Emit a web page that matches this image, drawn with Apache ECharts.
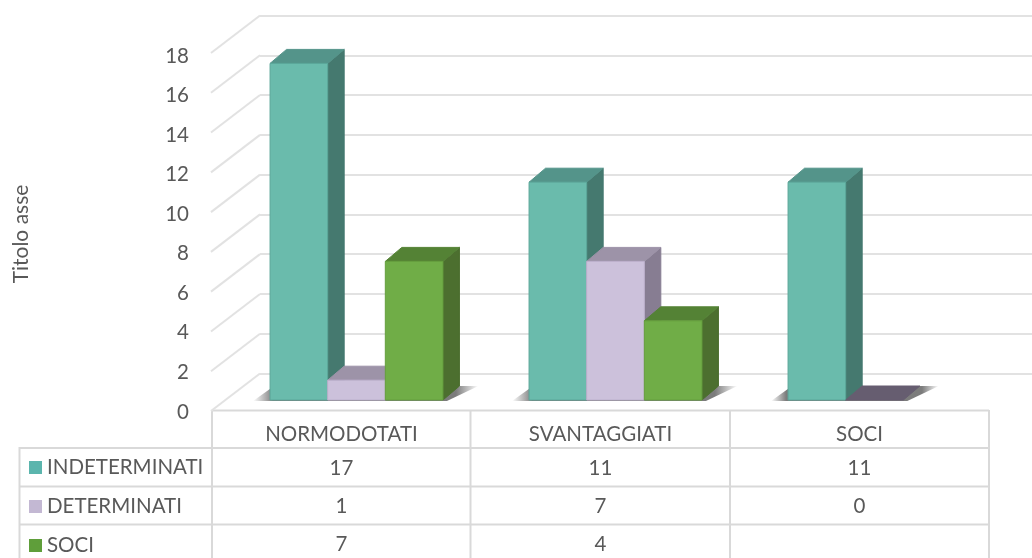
<!DOCTYPE html>
<html><head><meta charset="utf-8">
<style>html,body{margin:0;padding:0;background:#fff}#c{width:1032px;height:558px;filter:blur(0.45px)}</style>
<script src="https://cdn.jsdelivr.net/npm/echarts@6/dist/echarts.min.js"></script>
</head><body><div id="c"></div>
<script>
const categories = ['NORMODOTATI', 'SVANTAGGIATI', 'SOCI'];
const indeterminati = [17, 11, 11];
const determinati = [1, 7, 0];
const soci = [7, 4, null];
const seriesNames = ['INDETERMINATI', 'DETERMINATI', 'SOCI'];
const seriesValues = [indeterminati, determinati, soci];
const yTicks = [0, 2, 4, 6, 8, 10, 12, 14, 16, 18];
const TEXT = '#595959', FONT = 'Lato', FS = 20.5;
const LINE = '#d9d9d9', WALL = '#e2e2e2';
const palette = [
  {front: '#6abbac', side: '#45796f', top: '#54948a', edge: '#5ba79a', key: '#5bb5ad'},
  {front: '#ccc1db', side: '#877d92', top: '#9d93a8', edge: '#bdb1cd', key: '#c3b8d3', flat: '#665d70'},
  {front: '#70ad47', side: '#4c6f2f', top: '#548235', edge: '#659f3e', key: '#5f9e3a'}
];
const DX = 16.5, DY = -14, BAR_RATIO = 0.2225;
const rowY = [468, 506, 544];

function barRender(si) {
  return function (params, api) {
    const v = api.value(1);
    if (v === null || isNaN(v)) return;
    const c = api.coord([api.value(0), v]);
    const b = api.coord([api.value(0), 0]);
    const w = api.size([1, 0])[0] * BAR_RATIO;
    const x0 = c[0] - 1.5 * w + si * w, x1 = x0 + w;
    const p = palette[si];
    const poly = (pts, fill, stroke) => ({type: 'polygon', shape: {points: pts}, style: {fill, stroke: stroke || fill, lineWidth: 1}});
    const kids = [];
    if (v === 0) {
      kids.push(poly([[x0, b[1]], [x1, b[1]], [x1 + DX, b[1] + DY], [x0 + DX, b[1] + DY]], p.flat));
    } else {
      kids.push(poly([[x1, c[1]], [x1 + DX, c[1] + DY], [x1 + DX, b[1] + DY], [x1, b[1]]], p.side));
      kids.push(poly([[x0, c[1]], [x1, c[1]], [x1 + DX, c[1] + DY], [x0 + DX, c[1] + DY]], p.top));
      kids.push(poly([[x0, c[1]], [x1, c[1]], [x1, b[1]], [x0, b[1]]], p.front, p.edge));
    }
    return {type: 'group', children: kids};
  };
}
const barSeries = seriesNames.map((name, si) => ({
  name, type: 'custom', xAxisIndex: 1, yAxisIndex: 1, z: 5,
  itemStyle: {color: palette[si].key},
  clip: false,
  data: categories.map((c, i) => [i, seriesValues[si][i]]),
  encode: {x: 0, y: 1},
  renderItem: barRender(si)
}));

const shadowData = categories.map((c, i) => [i, seriesValues.filter(s => s[i] !== null).length]);
const shadowSeries = {
  type: 'custom', xAxisIndex: 1, yAxisIndex: 1, z: 4, silent: true, clip: false,
  data: shadowData, encode: {x: 0},
  renderItem(params, api) {
    const b = api.coord([api.value(0), 0]);
    const w = api.size([1, 0])[0] * BAR_RATIO;
    const x0 = b[0] - 1.5 * w, xe = x0 + api.value(1) * w;
    return {type: 'polygon', shape: {points: [[x0 - 17, b[1] + 1], [xe + 4, b[1] + 1], [xe + DX + 19, b[1] + DY], [x0 + 4, b[1] + DY]]},
      style: {fill: new echarts.graphic.LinearGradient(0, 0, 1, 0, [
        {offset: 0, color: 'rgba(80,80,80,0)'}, {offset: 0.09, color: 'rgba(80,80,80,0.75)'},
        {offset: 0.9, color: 'rgba(80,80,80,0.75)'}, {offset: 1, color: 'rgba(80,80,80,0)'}])}};
  }
};

const diagonalSeries = {
  type: 'custom', xAxisIndex: 2, yAxisIndex: 2, z: 1, silent: true, clip: false,
  data: yTicks.map(t => [0, t]), encode: {y: 1},
  renderItem(params, api) {
    const p = api.coord([0, api.value(1)]);
    return {type: 'line', shape: {x1: p[0], y1: p[1], x2: p[0] - 49, y2: p[1] + 37.5},
      style: {stroke: WALL, lineWidth: 2}};
  }
};

const cells = [];
seriesValues.forEach((s, r) => s.forEach((v, c) => { if (v !== null) cells.push([c, r, v]); }));
const tableSeries = {
  type: 'custom', xAxisIndex: 0, yAxisIndex: 0, z: 6, silent: true, clip: false,
  data: cells, encode: {x: 0},
  renderItem(params, api) {
    const p = api.coord([api.value(0), 0]);
    return {type: 'text', style: {text: String(api.value(2)), x: p[0], y: rowY[api.value(1)],
      align: 'center', verticalAlign: 'middle', fill: TEXT, font: FS + 'px ' + FONT}};
  }
};

const hLine = (x1, x2, y) => ({type: 'line', z: 0, silent: true, shape: {x1, y1: y, x2, y2: y}, style: {stroke: LINE, lineWidth: 2}});
const vLine = (x, y1, y2) => ({type: 'line', z: 0, silent: true, shape: {x1: x, y1, x2: x, y2}, style: {stroke: LINE, lineWidth: 2}});

const chart = echarts.init(document.getElementById('c'), null, {renderer: 'canvas'});
chart.setOption({
  animation: false,
  backgroundColor: '#fff',
  textStyle: {fontFamily: FONT},
  grid: [
    {left: 212, width: 777, top: 56, height: 356},
    {left: 227, width: 777, top: 43.6, height: 356.4},
    {left: 260, width: 772, top: 15.5, height: 358}
  ],
  xAxis: [
    {gridIndex: 0, type: 'category', data: categories, axisLine: {show: false}, axisTick: {show: false},
     axisLabel: {margin: 12, color: TEXT, fontSize: FS, fontFamily: FONT}},
    {gridIndex: 1, type: 'category', data: categories, show: false},
    {gridIndex: 2, type: 'value', min: 0, max: 1, show: false}
  ],
  yAxis: [
    {gridIndex: 0, type: 'value', min: 0, max: 18, interval: 2, name: 'Titolo asse', nameLocation: 'middle', nameGap: 180,
     nameTextStyle: {color: TEXT, fontSize: 21, fontFamily: FONT},
     axisLine: {show: false}, axisTick: {show: false}, splitLine: {show: false},
     axisLabel: {margin: 23, color: TEXT, fontSize: FS, fontFamily: FONT}},
    {gridIndex: 1, type: 'value', min: 0, max: 18, interval: 2, show: false, splitLine: {show: false}},
    {gridIndex: 2, type: 'value', min: 0, max: 18, interval: 2, axisLine: {show: false}, axisTick: {show: false},
     axisLabel: {show: false}, splitLine: {show: true, lineStyle: {color: WALL, width: 2}}}
  ],
  legend: {
    show: true, orient: 'vertical', left: 29, top: 457, height: 100, itemWidth: 13, itemHeight: 13, itemGap: 18, padding: 0,
    icon: 'rect', selectedMode: false, data: seriesNames,
    textStyle: {color: TEXT, fontSize: FS, fontFamily: FONT, padding: [0, 0, 0, 0]}
  },
  series: [diagonalSeries, shadowSeries, ...barSeries, tableSeries],
  graphic: {elements: [
    hLine(212, 989, 410.5), hLine(19.5, 989, 448), hLine(19.5, 989, 486.5), hLine(19.5, 989, 524.5),
    vLine(19.5, 447, 558), vLine(212, 410, 558), vLine(470.5, 410, 558), vLine(730, 410, 558), vLine(989, 410, 558)
  ]}
});
</script></body></html>
